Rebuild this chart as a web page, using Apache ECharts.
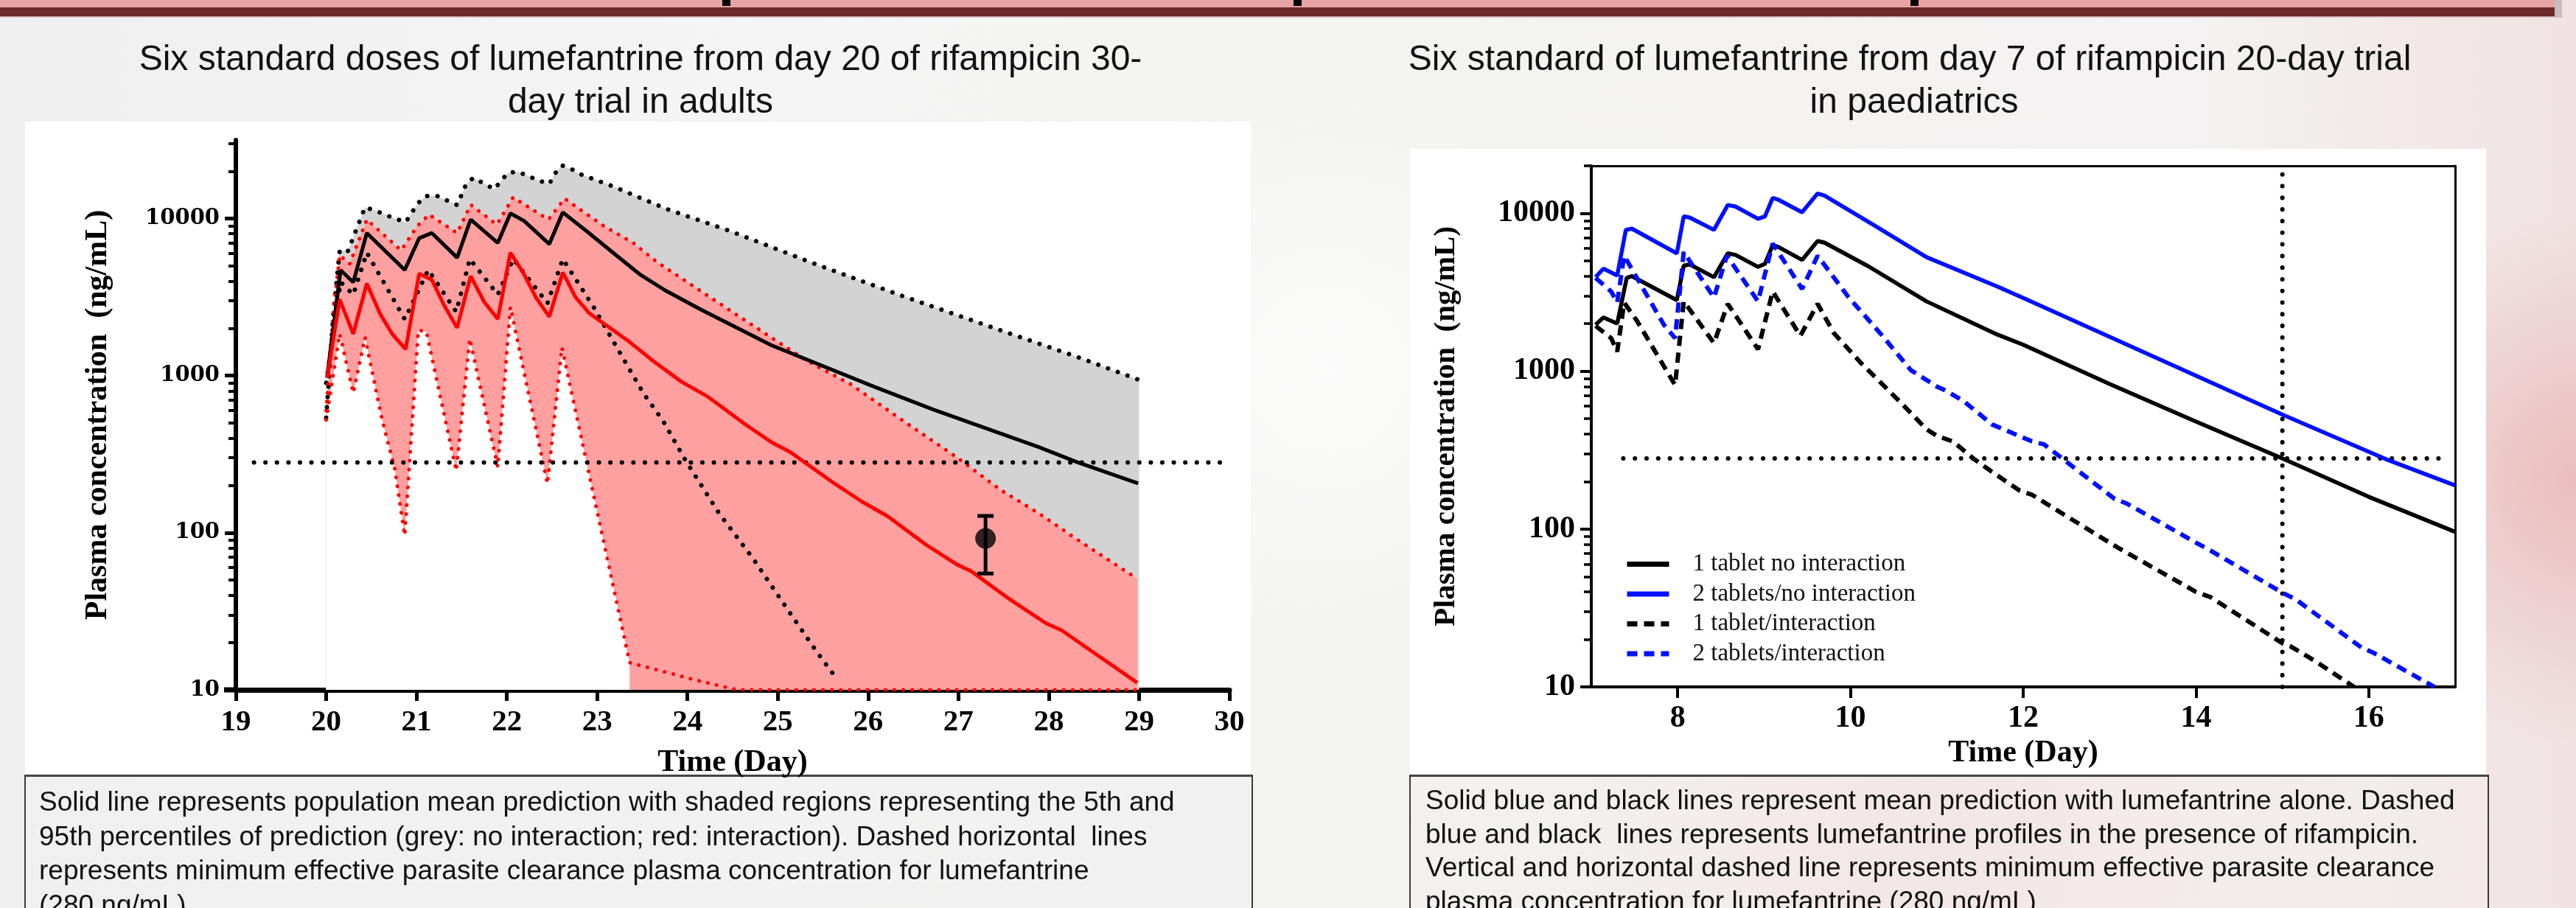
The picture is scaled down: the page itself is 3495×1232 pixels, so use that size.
<!DOCTYPE html>
<html><head><meta charset="utf-8">
<script src="https://cdn.jsdelivr.net/npm/echarts@6/dist/echarts.min.js"></script>
<style>html,body{margin:0;padding:0;background:#f2f2f2;}#c{width:3495px;height:1232px;}</style>
</head><body><div id="c"></div>
<script>
// ---------- LEFT CHART DATA (adults, day vs ng/mL) ----------
const greyUpper = [[20.0,540],[20.08,2500],[20.15,6300],[20.24,6200],[20.43,11800],[20.55,11200],[20.76,10000],[20.88,9500],[21.01,12400],[21.10,13900],[21.22,14000],[21.45,12200],[21.55,16600],[21.63,18200],[21.86,15400],[22.01,19500],[22.12,19900],[22.35,17500],[22.47,16600],[22.53,19300],[22.61,21800],[22.72,20600],[22.80,19300],[23.18,16000],[23.77,11500],[24.48,8300],[25.39,5200],[26.39,3200],[27.47,1940],[28.31,1320],[29.0,940]];
const greyLower = [[20.0,900],[20.16,3940],[20.30,3280],[20.45,6070],[20.87,2290],[21.13,4710],[21.44,2550],[21.59,5530],[21.90,3280],[22.07,5530],[22.45,2890],[22.62,5530],[22.96,2740],[23.21,1540],[23.51,776],[23.73,515],[23.98,288],[24.35,133],[24.73,68],[25.10,33],[25.43,17.5],[25.66,11.6]];
const redUpper = [[20.0,600],[20.08,2600],[20.15,5850],[20.26,5150],[20.45,9860],[20.83,6280],[21.01,9000],[21.14,10600],[21.45,8090],[21.60,12250],[21.89,9160],[22.07,13650],[22.46,9860],[22.64,13400],[23.07,9000],[23.40,7000],[23.67,5250],[24.0,3935],[24.56,2410],[25.31,1256],[25.81,880],[26.39,515],[26.98,303],[27.47,187],[27.89,133],[28.31,91],[28.98,51]];
const redLower = [[20.0,523],[20.15,1845],[20.30,776],[20.43,1750],[20.62,523],[20.76,254],[20.87,96],[21.02,1950],[21.11,1900],[21.44,248],[21.59,1720],[21.90,262],[22.04,2740],[22.45,205],[22.61,1510],[23.36,14.9],[23.73,13.1],[24.1,11.5],[24.55,10],[29.0,10]];
const blackMean = [[20.01,980],[20.16,4700],[20.30,3930],[20.45,8090],[20.87,4710],[21.03,7510],[21.17,8090],[21.45,5640],[21.60,9870],[21.90,7000],[22.04,10790],[22.19,9680],[22.47,6880],[22.62,10960],[22.91,8090],[23.21,5850],[23.48,4380],[23.75,3500],[24.14,2650],[24.93,1560],[26.06,853],[26.72,609],[27.89,351],[28.31,282],[28.99,206]];
const redMean = [[20.01,966],[20.15,3055],[20.30,1845],[20.45,3860],[20.60,2460],[20.73,1845],[20.88,1475],[21.03,4460],[21.17,4075],[21.30,2845],[21.45,2020],[21.60,4300],[21.75,2945],[21.90,2290],[22.04,6070],[22.18,4540],[22.32,3160],[22.47,2375],[22.62,4540],[22.76,3160],[22.91,2505],[23.35,1655],[23.62,1240],[23.93,918],[24.22,738],[24.64,490],[24.93,377],[25.14,326],[25.60,211],[25.93,158],[26.22,127],[26.64,84],[26.98,63],[27.14,57],[27.56,38],[27.97,26.5],[28.14,24],[28.56,16.3],[28.98,11.1]];
const observed = [[27.3,92]];
const observedRange = [[27.3,55,128]];
const thresholdLeft = [[19.2,280],[29.97,280]];
const redLowerWhiteEnd = 23.36;

// ---------- RIGHT CHART DATA (paediatrics) ----------
const black1NoInt = [[7.05,1970],[7.14,2190],[7.30,2005],[7.41,3900],[7.47,4000],[7.99,2820],[8.07,4660],[8.14,4750],[8.42,3940],[8.58,5580],[8.67,5450],[8.93,4580],[9.01,4790],[9.10,6290],[9.17,6110],[9.44,5070],[9.62,6680],[9.70,6520],[10.21,4610],[10.88,2770],[11.70,1707],[12.0,1470],[13.0,830],[14.0,480],[15.0,280],[16.0,160],[17.0,96]];
const blue2NoInt = [[7.05,3950],[7.14,4460],[7.30,4040],[7.40,7850],[7.47,8000],[7.99,5580],[8.07,9570],[8.14,9400],[8.42,7860],[8.58,11300],[8.67,11040],[8.93,9230],[9.01,9570],[9.10,12530],[9.17,12170],[9.44,10160],[9.62,13360],[9.70,12970],[10.27,8430],[10.88,5280],[11.70,3440],[12.0,2910],[13.0,1650],[14.0,937],[15.0,531],[16.2,277],[17.0,189]];
const black1Int = [[7.05,1935],[7.23,1620],[7.30,1330],[7.38,2720],[7.53,2080],[7.97,817],[8.07,2770],[8.42,1507],[8.58,2670],[8.93,1377],[9.10,3200],[9.42,1675],[9.62,2670],[9.81,1737],[10.12,1130],[10.58,635],[10.88,429],[11.0,390],[11.19,358],[11.43,278],[11.63,232],[11.96,175],[12.1,165],[13.0,82],[13.1,76],[14.0,40],[14.17,37],[15.0,18.9],[15.1,18],[15.37,14.7],[15.83,10]];
const blue2Int = [[7.05,3900],[7.23,3200],[7.30,2720],[7.38,5390],[7.84,1970],[7.97,1620],[8.07,5690],[8.42,2925],[8.57,5390],[8.93,2770],[9.10,6440],[9.44,3320],[9.62,5390],[9.97,2980],[10.37,1675],[10.70,1014],[11.0,800],[11.09,760],[11.31,647],[11.64,460],[12.1,360],[12.24,344],[13.06,155],[13.2,145],[14.0,82],[14.17,73],[15.0,39.5],[15.15,36],[15.92,17.7],[16.05,16.5],[16.76,10]];
const thresholdRight = [[7.37,280],[16.9,280]];
const cutoffDay = [[15,10],[15,20000]];

// ---------- TICKS ----------
const majorTicks = [10,100,1000,10000];
const minorTicksLeft = [20,30,40,50,60,70,80,90,200,300,400,500,600,700,800,900,2000,3000,4000,5000,6000,7000,8000,9000,20000,30000];
const minorTicksRight = [20,30,40,50,60,70,80,90,200,300,400,500,600,700,800,900,2000,3000,4000,5000,6000,7000,8000,9000,20000];
const rightXTicks = [8,10,12,14,16];
const legendNames = ['1 tablet no interaction','2 tablets/no interaction','1 tablet/interaction','2 tablets/interaction'];

// ---------- TEXTS ----------
const titleLeft = ['Six standard doses of lumefantrine from day 20 of rifampicin 30-','day trial in adults'];
const titleRight = ['Six standard of lumefantrine from day 7 of rifampicin 20-day trial','in paediatrics'];
const captionLeft = ['Solid line represents population mean prediction with shaded regions representing the 5th and','95th percentiles of prediction (grey: no interaction; red: interaction). Dashed horizontal  lines','represents minimum effective parasite clearance plasma concentration for lumefantrine','(280 ng/mL)'];
const captionRight = ['Solid blue and black lines represent mean prediction with lumefantrine alone. Dashed','blue and black  lines represents lumefantrine profiles in the presence of rifampicin.','Vertical and horizontal dashed line represents minimum effective parasite clearance','plasma concentration for lumefantrine (280 ng/mL)'];

const SERIF = 'Liberation Serif';
const SANS = 'Liberation Sans';
const dots = (color, w, gap) => ({color: color, width: w, type: [0.1, gap], cap: 'round'});

const chart = echarts.init(document.getElementById('c'));

function fillSeries(data, color, z) {
  return {type:'line', xAxisIndex:0, yAxisIndex:0, data:data, symbol:'none', silent:true, z:z,
    lineStyle:{width:0, opacity:0}, areaStyle:{color:color, opacity:1, origin:'start'}};
}
function lineSeries(name, data, xi, yi, style, z) {
  return {name:name, type:'line', xAxisIndex:xi, yAxisIndex:yi, data:data, symbol:'none', showSymbol:false, z:z, lineStyle:style, itemStyle:{color:style.color}};
}

const graphics = [];
// background
graphics.push({type:'rect', z:-100, shape:{x:0,y:0,width:3495,height:1232}, style:{fill:new echarts.graphic.LinearGradient(0,0,1,0,[{offset:0,color:'#efefef'},{offset:0.3,color:'#f5f5f5'},{offset:0.55,color:'#f3f3f1'},{offset:0.85,color:'#f4f2f2'},{offset:1,color:'#f0e2e2'}])}});
graphics.push({type:'circle', z:-99, shape:{cx:3495,cy:650,r:360}, style:{fill:new echarts.graphic.RadialGradient(0.5,0.5,0.5,[{offset:0,color:'rgba(232,165,165,0.6)'},{offset:1,color:'rgba(232,165,165,0)'}])}});
graphics.push({type:'circle', z:-99, shape:{cx:2650,cy:1150,r:520}, style:{fill:new echarts.graphic.RadialGradient(0.5,0.5,0.5,[{offset:0,color:'rgba(240,195,195,0.45)'},{offset:1,color:'rgba(240,195,195,0)'}])}});
graphics.push({type:'circle', z:-99, shape:{cx:1800,cy:500,r:380}, style:{fill:new echarts.graphic.RadialGradient(0.5,0.5,0.5,[{offset:0,color:'rgba(255,255,255,0.7)'},{offset:1,color:'rgba(255,255,255,0)'}])}});
// banner
graphics.push({type:'rect', z:-90, shape:{x:0,y:0,width:3466,height:10}, style:{fill:'#e8a3a3'}});
graphics.push({type:'rect', z:-90, shape:{x:0,y:10,width:3466,height:12}, style:{fill:'#6b2929'}});
graphics.push({type:'rect', z:-90, shape:{x:0,y:22,width:3466,height:1.5}, style:{fill:'#c9a0a0'}});
graphics.push({type:'rect', z:-91, shape:{x:3466,y:0,width:10,height:24}, style:{fill:'rgba(120,120,120,0.35)'}});
[980,1755,2592].forEach(function(x){ graphics.push({type:'rect', z:-89, shape:{x:x,y:0,width:11,height:8}, style:{fill:'#000'}}); });
// white panels
graphics.push({type:'rect', z:-80, shape:{x:34,y:165,width:1663,height:887}, style:{fill:'#ffffff'}});
graphics.push({type:'rect', z:-80, shape:{x:1913,y:202,width:1460,height:850}, style:{fill:'#ffffff'}});
// small extension of the left x-axis bar beyond the y-axis (as in the source figure)
graphics.push({type:'rect', z:50, shape:{x:304,y:932.5,width:18,height:7}, style:{fill:'#000'}});
// caption boxes
graphics.push({type:'rect', z:-70, shape:{x:34,y:1052,width:1665,height:200}, style:{fill:'rgba(240,240,240,0.75)', stroke:'#3a3a3a', lineWidth:2}});
graphics.push({type:'rect', z:-70, shape:{x:1913,y:1052,width:1463,height:200}, style:{fill:'rgba(242,236,236,0.55)', stroke:'#3a3a3a', lineWidth:2}});
graphics.push({type:'rect', z:-69, shape:{x:34,y:1051,width:1665,height:3}, style:{fill:'#444'}});
graphics.push({type:'rect', z:-69, shape:{x:1913,y:1051,width:1463,height:3}, style:{fill:'#444'}});
// titles & captions
function addText(str, x, y, size, family, align, weight) {
  graphics.push({type:'text', z:100, x:x, y:y, style:{text:str, fill:'#111', font:(weight||'normal')+' '+size+'px "'+family+'"', textAlign:align, textVerticalAlign:'middle'}});
}
addText(titleLeft[0], 869, 82, 48, SANS, 'center');
addText(titleLeft[1], 869, 140, 48, SANS, 'center');
addText(titleRight[0], 2591, 82, 48, SANS, 'center');
addText(titleRight[1], 2597, 140, 48, SANS, 'center');
captionLeft.forEach(function(s,i){ addText(s, 53, 1090 + i*46.5, 37, SANS, 'left'); });
captionRight.forEach(function(s,i){ addText(s, 1934, 1088 + i*45.5, 37, SANS, 'left'); });

const axisLabelFont = {fontFamily:SERIF, fontWeight:'bold', color:'#000'};

const option = {
  animation:false,
  backgroundColor:'transparent',
  graphic: graphics,
  grid:[
    {left:320, top:190, width:1348, height:746, containLabel:false},
    {left:2159, top:225, width:1172, height:707, containLabel:false}
  ],
  legend:{data:legendNames, orient:'vertical', left:2199, top:744, itemWidth:57, itemHeight:14, itemGap:7.5, selectedMode:false,
    itemStyle:{opacity:0}, lineStyle:{width:7},
    textStyle:{fontFamily:SERIF, fontSize:33, color:'#111', padding:[0,0,0,27]}},
  xAxis:[
    {gridIndex:0, type:'value', min:19, max:30, interval:1, splitLine:{show:false},
      axisLine:{onZero:false, lineStyle:{color:'#000', width:7}},
      axisTick:{length:15, lineStyle:{color:'#000', width:5}},
      axisLabel:Object.assign({margin:24, fontSize:41}, axisLabelFont),
      name:'Time (Day)', nameLocation:'middle', nameGap:78, nameTextStyle:Object.assign({fontSize:42}, axisLabelFont)},
    {gridIndex:1, type:'value', min:7, max:17, splitLine:{show:false},
      axisLine:{onZero:false, lineStyle:{color:'#000', width:4}},
      axisTick:{length:15, customValues:rightXTicks, lineStyle:{color:'#000', width:4}},
      axisLabel:Object.assign({margin:22, fontSize:42, customValues:rightXTicks}, axisLabelFont),
      name:'Time (Day)', nameLocation:'middle', nameGap:66, nameTextStyle:Object.assign({fontSize:42}, axisLabelFont)},
    {gridIndex:1, type:'value', position:'top', min:7, max:17, splitLine:{show:false},
      axisLine:{onZero:false, lineStyle:{color:'#000', width:3}}, axisTick:{show:false}, axisLabel:{show:false}}
  ],
  yAxis:[
    {gridIndex:0, type:'log', logBase:10, position:'left', min:10, max:31623, splitLine:{show:false},
      axisLine:{onZero:false, lineStyle:{color:'#000', width:6}},
      axisTick:{length:15, customValues:majorTicks, lineStyle:{color:'#000', width:5}},
      axisLabel:{margin:22, fontSize:29, customValues:majorTicks, fontFamily:'DejaVu Serif', fontWeight:'bold', color:'#000', formatter:function(v){return String(Math.round(v));}},
      name:'Plasma concentration  (ng/mL)', nameLocation:'middle', nameGap:166, nameRotate:90,
      nameTextStyle:Object.assign({fontSize:42}, axisLabelFont)},
    {gridIndex:0, type:'log', logBase:10, position:'left', min:10, max:31623, splitLine:{show:false},
      axisLine:{show:false, onZero:false}, axisLabel:{show:false},
      axisTick:{length:10, customValues:minorTicksLeft, lineStyle:{color:'#000', width:4}}},
    {gridIndex:1, type:'log', logBase:10, position:'left', min:10, max:20000, splitLine:{show:false},
      axisLine:{onZero:false, lineStyle:{color:'#000', width:4}},
      axisTick:{length:15, customValues:majorTicks, lineStyle:{color:'#000', width:4}},
      axisLabel:Object.assign({margin:22, fontSize:42, customValues:majorTicks, formatter:function(v){return String(Math.round(v));}}, axisLabelFont),
      name:'Plasma concentration  (ng/mL)', nameLocation:'middle', nameGap:176, nameRotate:90,
      nameTextStyle:Object.assign({fontSize:41}, axisLabelFont)},
    {gridIndex:1, type:'log', logBase:10, position:'left', min:10, max:20000, splitLine:{show:false},
      axisLine:{show:false, onZero:false}, axisLabel:{show:false},
      axisTick:{length:10, customValues:minorTicksRight, lineStyle:{color:'#000', width:3.5}}},
    {gridIndex:1, type:'log', logBase:10, position:'right', min:10, max:20000, splitLine:{show:false},
      axisLine:{onZero:false, lineStyle:{color:'#000', width:3}}, axisTick:{show:false}, axisLabel:{show:false}}
  ],
  series:[
    fillSeries(greyUpper, '#d3d3d3', 1),
    fillSeries(greyLower, '#ffffff', 2),
    fillSeries(redUpper, '#ffa0a0', 3),
    fillSeries(redLower.filter(function(p){return p[0] <= redLowerWhiteEnd;}), '#ffffff', 4),
    lineSeries('grey95', greyUpper, 0, 0, dots('#000', 6, 14), 10),
    lineSeries('grey5', greyLower, 0, 0, dots('#000', 6, 14), 10),
    lineSeries('red95', redUpper, 0, 0, dots('#ff0000', 5, 12), 11),
    lineSeries('red5', redLower, 0, 0, dots('#ff0000', 5, 12), 11),
    lineSeries('threshold', thresholdLeft, 0, 0, dots('#000', 6, 15.5), 12),
    lineSeries('no interaction mean', blackMean, 0, 0, {color:'#000', width:5}, 13),
    lineSeries('interaction mean', redMean, 0, 0, {color:'#ff0000', width:5}, 13),
    {type:'custom', xAxisIndex:0, yAxisIndex:0, data:observedRange, z:14,
      renderItem:function(params, api){
        const x = api.value(0);
        const lo = api.coord([x, api.value(1)]);
        const hi = api.coord([x, api.value(2)]);
        const st = {stroke:'#000', lineWidth:5};
        return {type:'group', children:[
          {type:'line', shape:{x1:lo[0], y1:lo[1], x2:hi[0], y2:hi[1]}, style:st},
          {type:'line', shape:{x1:lo[0]-11, y1:lo[1], x2:lo[0]+11, y2:lo[1]}, style:st},
          {type:'line', shape:{x1:hi[0]-11, y1:hi[1], x2:hi[0]+11, y2:hi[1]}, style:st}
        ]};
      }},
    {type:'scatter', xAxisIndex:0, yAxisIndex:0, data:observed, symbol:'circle', symbolSize:28, itemStyle:{color:'#000'}, z:15},
    // right chart
    lineSeries('thresholdR', thresholdRight, 1, 2, dots('#000', 6, 15.7), 5),
    lineSeries('cutoff', cutoffDay, 1, 2, dots('#000', 6, 15.7), 5),
    lineSeries(legendNames[0], black1NoInt, 1, 2, {color:'#000', width:5.5}, 10),
    lineSeries(legendNames[1], blue2NoInt, 1, 2, {color:'#0010ff', width:5.5}, 10),
    lineSeries(legendNames[2], black1Int, 1, 2, {color:'#000', width:6, type:[14,9]}, 10),
    lineSeries(legendNames[3], blue2Int, 1, 2, {color:'#0010ff', width:6, type:[14,9]}, 10)
  ]
};
chart.setOption(option);
</script></body></html>
